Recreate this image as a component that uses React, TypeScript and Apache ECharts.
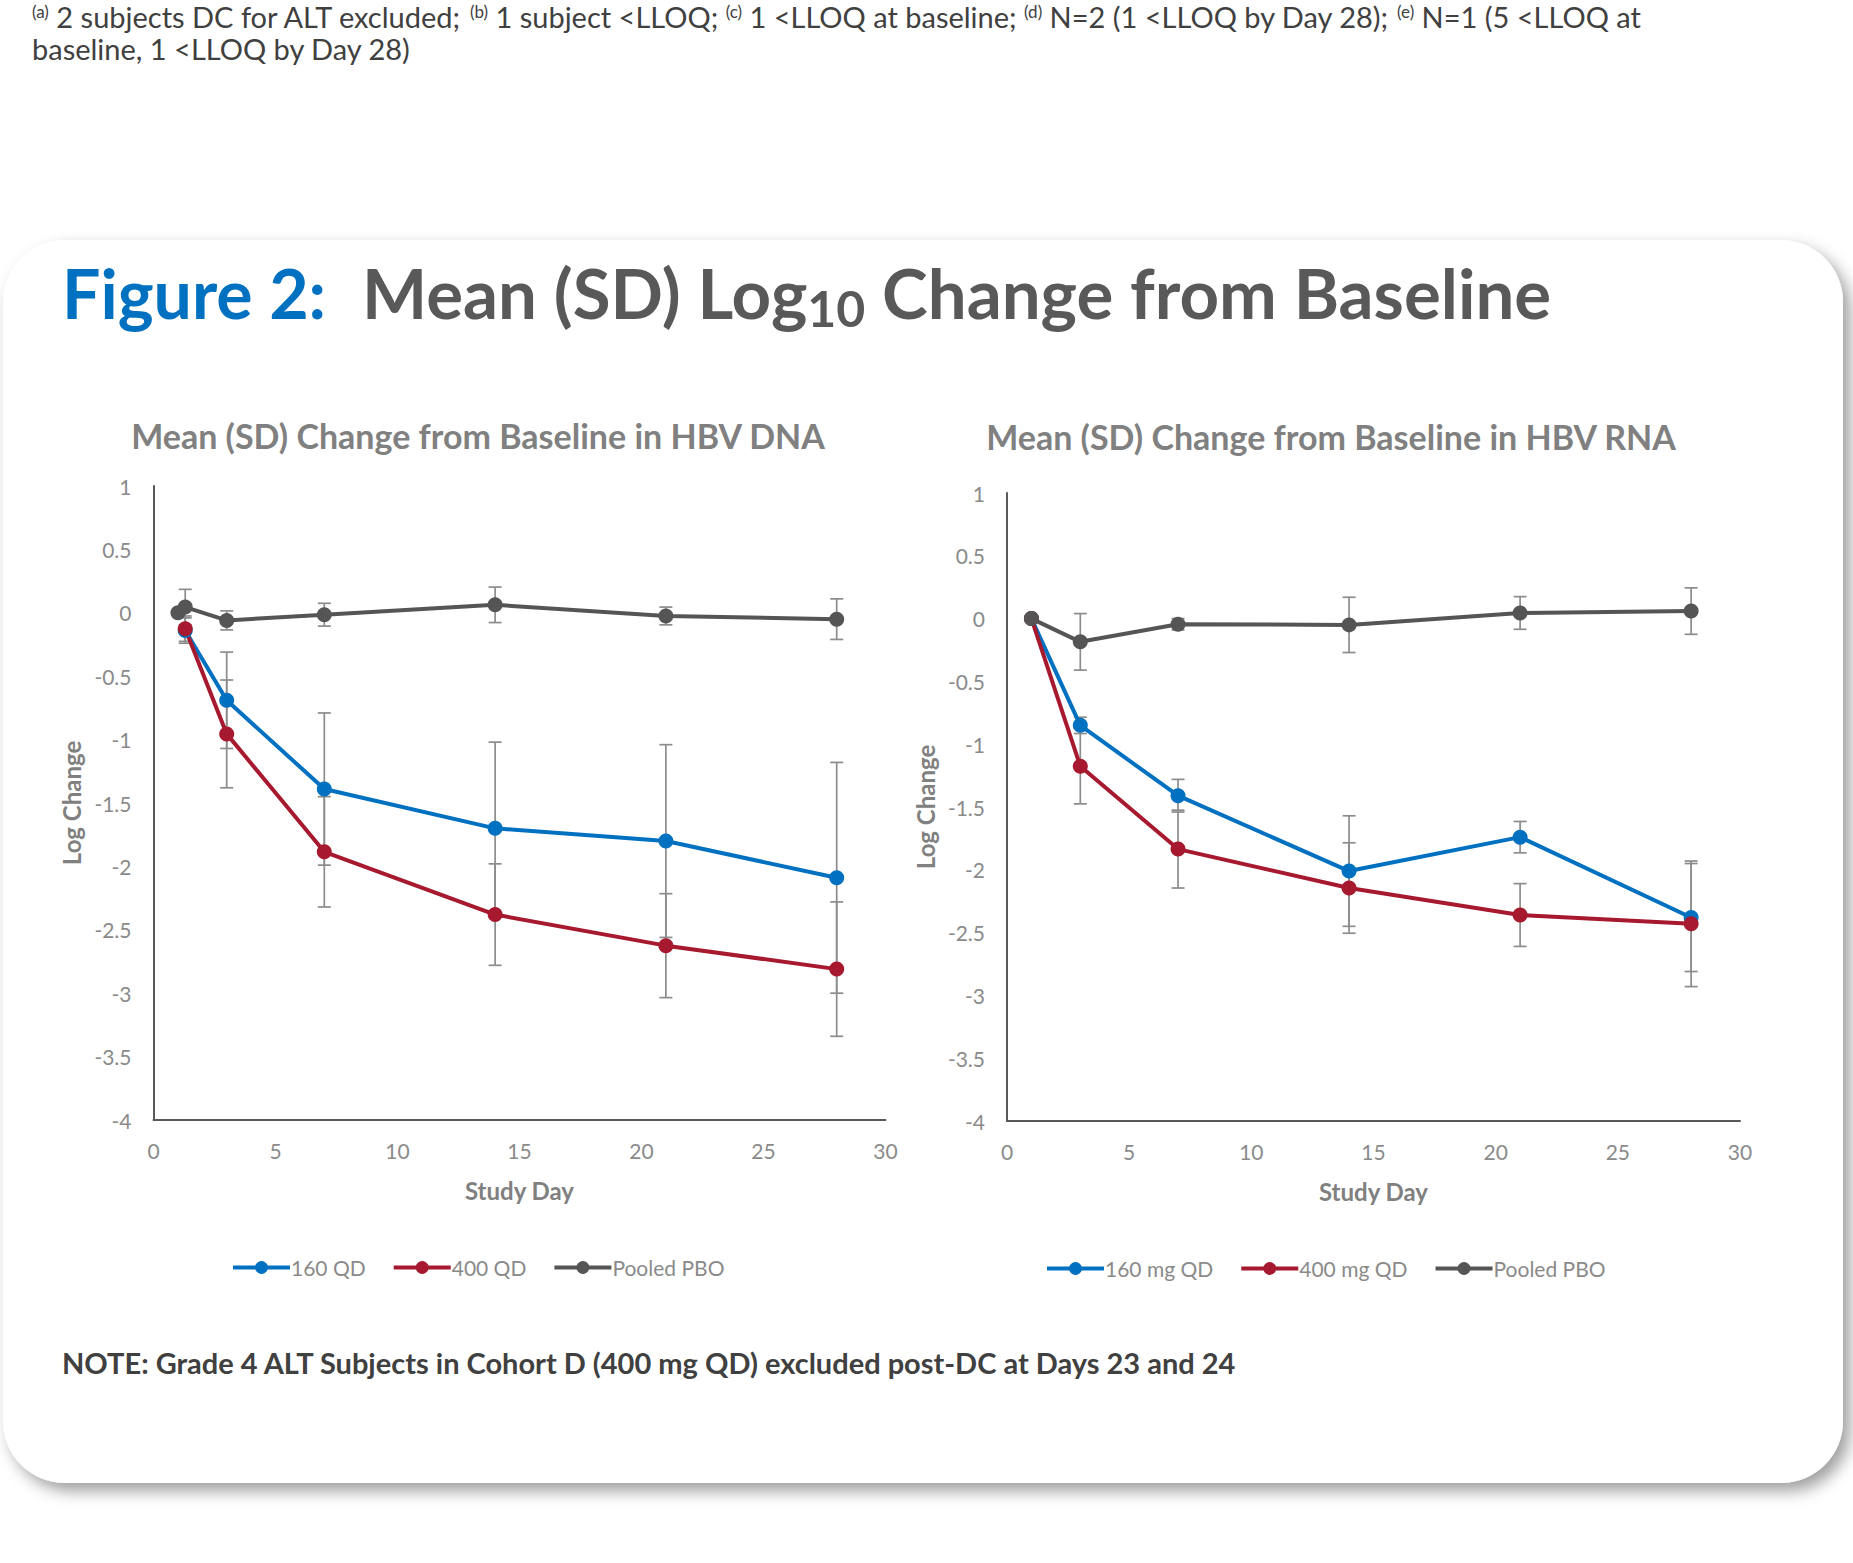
import React, { useEffect, useRef } from "react";
import * as echarts from "echarts";

// ---------- data ----------
const xTicks = [0, 5, 10, 15, 20, 25, 30];
const yTicks = [-4, -3.5, -3, -2.5, -2, -1.5, -1, -0.5, 0, 0.5, 1];

// HBV DNA
const dnaActiveDays = [1.3, 3, 7, 14, 21, 28];
const dna160Mean = [-0.14, -0.69, -1.39, -1.7, -1.8, -2.09];
const dna160SD = [0.1, 0.38, 0.6, 0.68, 0.76, 0.91];
const dna400Mean = [-0.125, -0.955, -1.885, -2.38, -2.625, -2.81];
const dna400SD = [0.1, 0.425, 0.435, 0.4, 0.41, 0.53];
const dnaPboDays = [1, 1.3, 3, 7, 14, 21, 28];
const dnaPboMean = [0, 0.045, -0.06, -0.015, 0.063, -0.025, -0.05];
const dnaPboSD = [0, 0.14, 0.075, 0.09, 0.14, 0.07, 0.16];

// HBV RNA
const rnaDays = [1, 3, 7, 14, 21, 28];
const rna160Mean = [0, -0.85, -1.41, -2.01, -1.74, -2.38];
const rna160SD = [0, 0.065, 0.13, 0.44, 0.125, 0.43];
const rna400Mean = [0, -1.175, -1.835, -2.145, -2.36, -2.43];
const rna400SD = [0, 0.3, 0.31, 0.36, 0.25, 0.5];
const rnaPboMean = [0, -0.185, -0.045, -0.05, 0.045, 0.06];
const rnaPboSD = [0, 0.225, 0.045, 0.22, 0.13, 0.185];

const dnaLegend = ["160 QD", "400 QD", "Pooled PBO"];
const rnaLegend = ["160 mg QD", "400 mg QD", "Pooled PBO"];

const BLUE = "#0070C0";
const RED = "#A6192E";
const GRAY = "#555555";
const ERR = "#8C8C8C";
const LABEL = "#8A8A8A";
const FONT = "Lato, 'Open Sans', sans-serif";

function lineSeries(name: string, color: string, days: number[], mean: number[], gi: number) {
  return {
    type: "line",
    name,
    xAxisIndex: gi,
    yAxisIndex: gi,
    data: days.map((d, i) => [d, mean[i]]),
    symbol: "circle",
    symbolSize: 15,
    lineStyle: { color, width: 4 },
    itemStyle: { color },
    z: 3,
  };
}

function errRender(params: any, api: any) {
  const x = api.value(0);
  const lo = api.value(1);
  const hi = api.value(2);
  if (!(hi - lo > 0)) return null;
  const t = api.coord([x, hi]);
  const b = api.coord([x, lo]);
  const w = 6.5;
  const style = { stroke: ERR, lineWidth: 1.7, fill: null };
  return {
    type: "group",
    children: [
      { type: "line", shape: { x1: t[0], y1: t[1], x2: b[0], y2: b[1] }, style },
      { type: "line", shape: { x1: t[0] - w, y1: t[1], x2: t[0] + w, y2: t[1] }, style },
      { type: "line", shape: { x1: b[0] - w, y1: b[1], x2: b[0] + w, y2: b[1] }, style },
    ],
  };
}

function errSeries(id: string, days: number[], mean: number[], sd: number[], gi: number) {
  return {
    type: "custom",
    name: id,
    xAxisIndex: gi,
    yAxisIndex: gi,
    renderItem: errRender,
    encode: { x: 0, y: [1, 2] },
    data: days.map((d, i) => [d, mean[i] - sd[i], mean[i] + sd[i]]),
    z: 1,
    silent: true,
  };
}

function xAxis(gi: number) {
  return {
    type: "value",
    gridIndex: gi,
    min: xTicks[0],
    max: xTicks[xTicks.length - 1],
    interval: 5,
    name: "Study Day",
    nameLocation: "middle",
    nameGap: 58,
    nameTextStyle: { color: "#808080", fontSize: 24, fontWeight: "bold", fontFamily: FONT },
    axisLine: { show: true, onZero: false, lineStyle: { color: "#595959", width: 2 } },
    axisTick: { show: false },
    splitLine: { show: false },
    axisLabel: { color: LABEL, fontSize: 21, margin: 20, fontFamily: FONT },
  };
}

function yAxis(gi: number) {
  return {
    type: "value",
    gridIndex: gi,
    min: yTicks[0],
    max: yTicks[yTicks.length - 1],
    interval: 0.5,
    name: "Log Change",
    nameLocation: "middle",
    nameGap: 70,
    nameTextStyle: { color: "#808080", fontSize: 24, fontWeight: "bold", fontFamily: FONT },
    axisLine: { show: true, onZero: false, lineStyle: { color: "#595959", width: 2 } },
    axisTick: { show: false },
    splitLine: { show: false },
    axisLabel: { color: LABEL, fontSize: 21, margin: 22, fontFamily: FONT },
  };
}

export default function App() {
  const ref = useRef<HTMLDivElement>(null);
  useEffect(() => {
    if (!ref.current) return;
    const chart = echarts.init(ref.current, undefined, { renderer: "svg" });
    const legendCommon = {
      orient: "horizontal",
      itemWidth: 57,
      itemHeight: 16,
      itemGap: 26,
      lineStyle: { width: 4 },
      textStyle: { color: "#8A8A8A", fontSize: 21, fontFamily: FONT, padding: [0, 0, 0, -4] },
    };
    const option: any = {
      animation: false,
      backgroundColor: "#ffffff",
      textStyle: { fontFamily: FONT },
      graphic: [
        {
          type: "rect",
          z: -10,
          shape: { x: 3, y: 240, width: 1840, height: 1243, r: 62 },
          style: {
            fill: "#ffffff",
            shadowBlur: 16,
            shadowOffsetX: 7,
            shadowOffsetY: 8,
            shadowColor: "rgba(0,0,0,0.38)",
          },
        },
        {
          type: "text",
          left: 32,
          top: 2,
          style: {
            text: "{s|(a)} 2 subjects DC for ALT excluded; {s|(b)} 1 subject <LLOQ; {s|(c)} 1 <LLOQ at baseline; {s|(d)} N=2 (1 <LLOQ by Day 28); {s|(e)} N=1 (5 <LLOQ at",
            font: `29px ${FONT}`,
            fill: "#404040",
            lineHeight: 28,
            rich: {
              s: { fontSize: 17, fill: "#404040", lineHeight: 17, verticalAlign: "top", fontFamily: FONT },
            },
          },
        },
        {
          type: "text",
          left: 32,
          top: 31,
          style: {
            text: "baseline, 1 <LLOQ by Day 28)",
            font: `29px ${FONT}`,
            fill: "#404040",
            lineHeight: 34,
          },
        },
        {
          type: "text",
          left: 62,
          top: 258,
          style: {
            text: "{f|Figure 2:}{g|Mean (SD) Log}{s|10}{g| Change from Baseline}",
            rich: {
              f: {
                fontSize: 68,
                fontWeight: "bold",
                fontFamily: FONT,
                fill: "#0070C0",
                lineHeight: 80,
                padding: [0, 36, 0, 0],
              },
              g: { fontSize: 69, fontWeight: "bold", fontFamily: FONT, fill: "#595959", lineHeight: 80 },
              s: {
                fontSize: 50,
                fontWeight: "bold",
                fontFamily: FONT,
                fill: "#595959",
                lineHeight: 28,
                verticalAlign: "bottom",
              },
            },
          },
        },
        {
          type: "text",
          left: 62,
          top: 1348,
          style: {
            text: "NOTE: Grade 4 ALT Subjects in Cohort D (400 mg QD) excluded post-DC at Days 23 and 24",
            font: `bold 29px ${FONT}`,
            fill: "#404040",
          },
        },
      ],
      title: [
        {
          text: "Mean (SD) Change from Baseline in HBV DNA",
          left: 473,
          top: 413,
          textAlign: "center",
          textStyle: { color: "#808080", fontSize: 34, fontWeight: "bold", fontFamily: FONT },
        },
        {
          text: "Mean (SD) Change from Baseline in HBV RNA",
          left: 1326,
          top: 414,
          textAlign: "center",
          textStyle: { color: "#808080", fontSize: 34, fontWeight: "bold", fontFamily: FONT },
        },
      ],
      legend: [
        { ...legendCommon, left: 226, top: 1252, data: dnaLegend },
        { ...legendCommon, left: 1040, top: 1253, data: rnaLegend },
      ],
      grid: [
        { left: 153.5, top: 486, width: 732, height: 634 },
        { left: 1007, top: 493, width: 733, height: 628 },
      ],
      xAxis: [xAxis(0), xAxis(1)],
      yAxis: [yAxis(0), yAxis(1)],
      series: [
        errSeries("e-dna-160", dnaActiveDays, dna160Mean, dna160SD, 0),
        errSeries("e-dna-400", dnaActiveDays, dna400Mean, dna400SD, 0),
        errSeries("e-dna-pbo", dnaPboDays, dnaPboMean, dnaPboSD, 0),
        lineSeries(dnaLegend[0], BLUE, dnaActiveDays, dna160Mean, 0),
        lineSeries(dnaLegend[1], RED, dnaActiveDays, dna400Mean, 0),
        lineSeries(dnaLegend[2], GRAY, dnaPboDays, dnaPboMean, 0),
        errSeries("e-rna-160", rnaDays, rna160Mean, rna160SD, 1),
        errSeries("e-rna-400", rnaDays, rna400Mean, rna400SD, 1),
        errSeries("e-rna-pbo", rnaDays, rnaPboMean, rnaPboSD, 1),
        lineSeries(rnaLegend[0], BLUE, rnaDays, rna160Mean, 1),
        lineSeries(rnaLegend[1], RED, rnaDays, rna400Mean, 1),
        lineSeries(rnaLegend[2], GRAY, rnaDays, rnaPboMean, 1),
      ],
    };
    chart.setOption(option);
    return () => chart.dispose();
  }, []);
  return (
    <div
      ref={ref}
      style={{ position: "absolute", left: 0, top: 0, width: 1853, height: 1563 }}
    />
  );
}
